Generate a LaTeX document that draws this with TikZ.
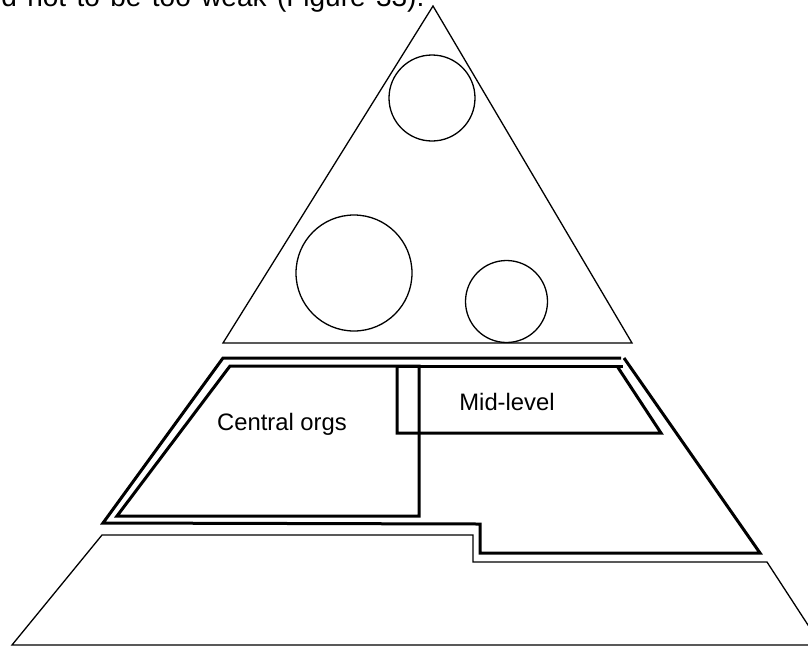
\documentclass[tikz,border=0pt]{standalone}
\usepackage{fontspec}
\setmainfont{Liberation Sans}
\begin{document}
\begin{tikzpicture}[x=0.5pt,y=-0.5pt,
    thinline/.style={line width=0.65pt},
    thickline/.style={line width=1.5pt},
    ring/.style={circle,draw,line width=0.65pt,inner sep=0pt},
    lbl/.style={font=\fontsize{11.9}{14}\selectfont,inner sep=0pt},
  ]
  \clip (0,0) rectangle (808,649);
  \useasboundingbox (0,0) rectangle (808,649);
  % running text cut off above the figure
  \node[anchor=base west,inner sep=0pt,font=\fontsize{14}{16}\selectfont] (runtext) at (1,6.5)
    {\makebox[211.5pt][s]{d not to be too weak (Figure 33).}};
  % apex
  \draw[thinline] (433,6) -- (632,343) -- (223,343) -- cycle;
  \node[ring,minimum size=43pt] (ringtop)   at (432,98)      {};
  \node[ring,minimum size=58pt] (ringbig)   at (354,273)     {};
  \node[ring,minimum size=41pt] (ringsmall) at (506.5,301.5) {};
  % middle band
  \draw[thickline] (621,358) -- (223,358) -- (103,523) -- (480,524) -- (480,553) -- (760,553) -- (624,358);
  \draw[thickline] (230,366) -- (419,366) -- (419,516) -- (117,516) -- cycle;
  \draw[thickline] (397,366) -- (623,366);
  \draw[thickline] (617,366) -- (661,433) -- (397,433) -- (397,366);
  \node[lbl] (central)  at (282,424) {Central orgs};
  \node[lbl] (midlevel) at (507,402) {Mid-level};
  % base
  \draw[thinline] (102,535) -- (473,535) -- (473,562) -- (767,562) -- (821,645) -- (12,645) -- cycle;
\end{tikzpicture}
\end{document}
